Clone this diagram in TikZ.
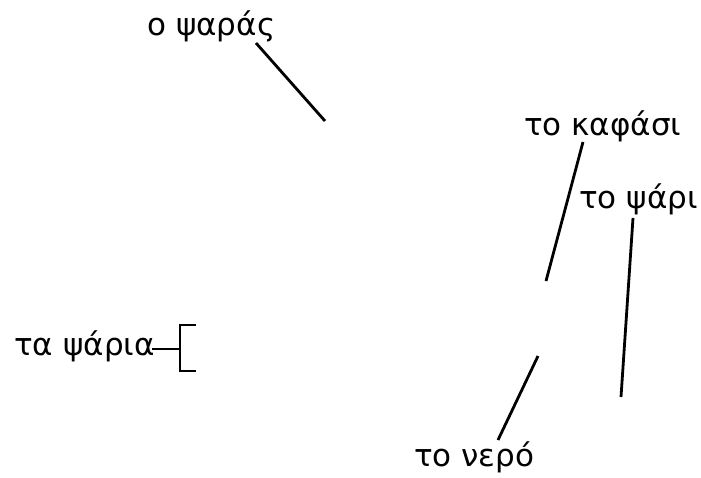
\documentclass[tikz,border=0pt]{standalone}
\usepackage{fontspec}
\setmainfont{DejaVu Sans}
\tikzset{lbl/.style={inner sep=0pt,anchor=base west,font=\fontsize{31}{37}\selectfont},
 pointer/.style={line width=2.8pt}}
\begin{document}
\begin{tikzpicture}[x=1pt,y=-1pt]
\useasboundingbox (0,0) rectangle (701,477);
\node[lbl] (psaras) at (147,35) {ο ψαράς};
\node[lbl] (kafasi) at (524,135) {το καφάσι};
\node[lbl] (psari) at (579,208) {το ψάρι};
\node[lbl] (psaria) at (14,355) {τα ψάρια};
\node[lbl] (nero) at (414,466) {το νερό};
\coordinate (psaras-a) at (256,43);
\coordinate (psaras-b) at (325,121);
\coordinate (kafasi-a) at (583,142);
\coordinate (kafasi-b) at (546,281);
\coordinate (psari-a) at (633,218);
\coordinate (psari-b) at (621,397);
\coordinate (nero-a) at (498,440);
\coordinate (nero-b) at (538,356);
\coordinate (psaria-a) at (152,349);
\coordinate (psaria-b) at (180,349);
\draw[pointer] (psaras-a)--(psaras-b);
\draw[pointer] (kafasi-a)--(kafasi-b);
\draw[pointer] (psari-a)--(psari-b);
\draw[pointer] (nero-a)--(nero-b);
\draw[pointer] (psaria-a)--(psaria-b);
\draw[pointer] (196,325)--(180,325)--(180,371)--(196,371);
\end{tikzpicture}
\end{document}
